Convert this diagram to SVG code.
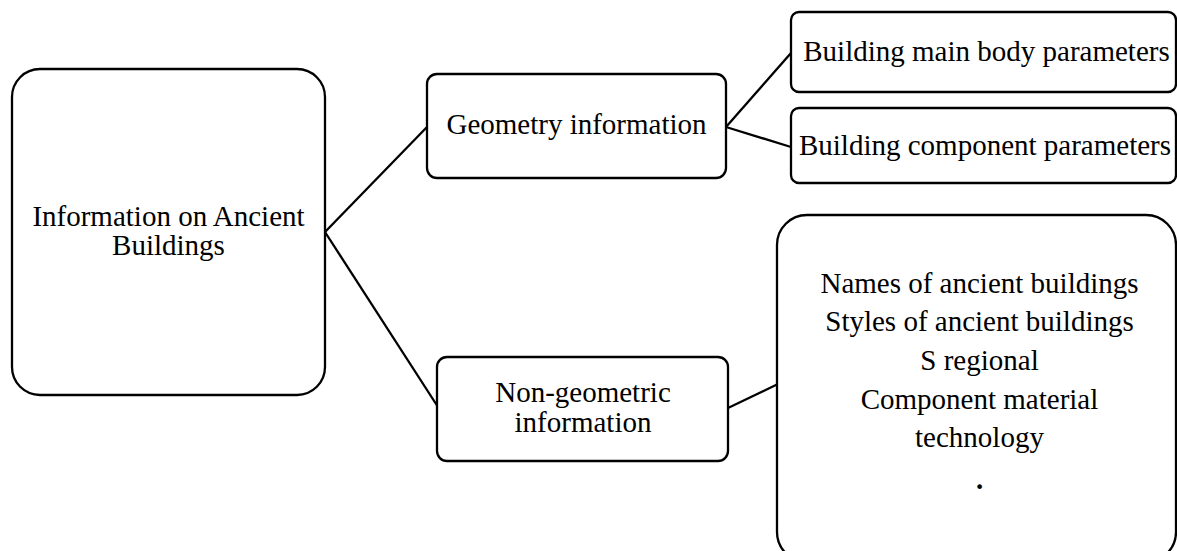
<svg xmlns="http://www.w3.org/2000/svg" width="1177" height="551" viewBox="0 0 1177 551">
<style>
.box{fill:#fff;stroke:#000;stroke-width:2.3}
.t{font-family:'Times New Roman','Liberation Serif','DejaVu Serif','Noto Serif',serif;font-size:29px;fill:#000;text-anchor:middle}
.c{stroke:#000;stroke-width:2.3;fill:none}
</style>
<rect width="1177" height="551" fill="#fff"/>
<g id="connectors">
<line class="c" x1="325" y1="232" x2="427" y2="127"/>
<line class="c" x1="325" y1="232" x2="438" y2="407"/>
<line class="c" x1="726" y1="127" x2="791" y2="53"/>
<line class="c" x1="726" y1="127" x2="791" y2="147"/>
<line class="c" x1="728" y1="408" x2="778" y2="384"/>
</g>
<g id="root">
<rect class="box" x="12" y="69" width="313" height="326" rx="28"/>
<text class="t" x="168.5" y="226">Information on Ancient</text>
<text class="t" x="168.5" y="255">Buildings</text>
</g>
<g id="geometry">
<rect class="box" x="427" y="74" width="299" height="104" rx="10"/>
<text class="t" x="576.5" y="134">Geometry information</text>
</g>
<g id="nongeometric">
<rect class="box" x="437" y="357" width="291" height="104" rx="10"/>
<text class="t" x="583" y="402">Non-geometric</text>
<text class="t" x="583" y="432">information</text>
</g>
<g id="mainbody">
<rect class="box" x="791" y="12" width="385" height="80" rx="8"/>
<text class="t" x="986.5" y="61">Building main body parameters</text>
</g>
<g id="component">
<rect class="box" x="791" y="108" width="385" height="75" rx="8"/>
<text class="t" x="985" y="155">Building component parameters</text>
</g>
<g id="nongeo-items">
<rect class="box" x="777" y="215" width="399" height="347" rx="30"/>
<text class="t" x="979.5" y="293">Names of ancient buildings</text>
<text class="t" x="979.5" y="331">Styles of ancient buildings</text>
<text class="t" x="979.5" y="370">S regional</text>
<text class="t" x="979.5" y="409">Component material</text>
<text class="t" x="979.5" y="447">technology</text>
<text class="t" x="979.5" y="489" font-weight="bold">.</text>
</g>
</svg>
